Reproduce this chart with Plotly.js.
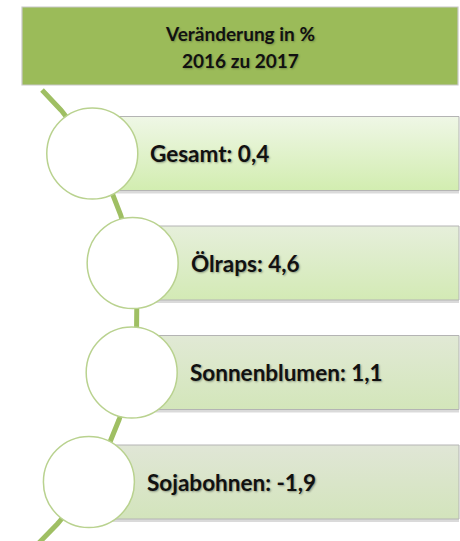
<!DOCTYPE html>
<html>
<head>
<meta charset="utf-8">
<script src="https://cdn.plot.ly/plotly-3.0.1.min.js"></script>
<style>html,body{margin:0;padding:0;background:#fff;}#chart{width:460px;height:541px;}</style>
</head>
<body>
<div id="chart"></div>
<script>
// ---- data ----
const titleLines = ['Veränderung in %', '2016 zu 2017'];
const categories = ['Gesamt', 'Ölraps', 'Sonnenblumen', 'Sojabohnen'];
const changes = [0.4, 4.6, 1.1, -1.9];
const barTopColors = ['#eff7e6', '#e6efdb', '#e1e9d5', '#e0e6d6'];
const barBottomColors = ['#d2edb0', '#d3eab5', '#d3e6ba', '#d3e4bc'];

// ---- layout geometry ----
const W = 460, H = 541;
const firstY = 153.5, stepY = 109.5, halfBar = 37, barRight = 459;
const arcCx = -177, arcCy = 315, arcR = 314;
function arcX(y) { return arcCx + Math.sqrt(arcR * arcR - (y - arcCy) * (y - arcCy)); }
function fmt(v) { return String(v).replace('.', ','); }

const traces = [];
// connecting arc
const lx = [], ly = [];
for (let y = 90; y <= 548; y += 2) { lx.push(arcX(y)); ly.push(y); }
traces.push({x: lx, y: ly, type: 'scatter', mode: 'lines',
  line: {color: '#9fbf63', width: 5}, hoverinfo: 'skip', showlegend: false});

const annotations = [];
categories.forEach((cat, i) => {
  const yc = firstY + i * stepY;
  const xc = arcX(yc);
  const t = yc - halfBar, b = yc + halfBar;
  // shadow
  traces.push({x: [xc, barRight, barRight, xc, xc], y: [t + 2, t + 2, b + 3, b + 3, t + 2],
    type: 'scatter', mode: 'lines', fill: 'toself', fillcolor: 'rgba(150,150,150,0.35)',
    line: {width: 0, color: 'rgba(0,0,0,0)'}, hoverinfo: 'skip', showlegend: false});
  // bar
  traces.push({x: [xc, barRight, barRight, xc, xc], y: [t, t, b, b, t],
    type: 'scatter', mode: 'lines', fill: 'toself',
    fillgradient: {type: 'vertical', start: t, stop: b,
      colorscale: [[0, barTopColors[i]], [1, barBottomColors[i]]]},
    line: {width: 1, color: '#b4b4b4'}, hoverinfo: 'skip', showlegend: false});
  // circle
  traces.push({x: [xc], y: [yc], type: 'scatter', mode: 'markers',
    marker: {size: 91, color: '#ffffff', line: {color: '#b9d28f', width: 1.5}},
    hoverinfo: 'skip', showlegend: false});
  annotations.push({x: xc + 56, y: yc, xref: 'x', yref: 'y', xanchor: 'left', yanchor: 'middle',
    text: '<b>' + cat + ': ' + fmt(changes[i]) + '</b>', showarrow: false,
    font: {family: 'Lato, sans-serif', size: 22.5, color: '#111111',
      shadow: '1px 1px 2px rgba(0,0,0,0.35)'}});
});

titleLines.forEach((s, j) => {
  annotations.push({x: 240, y: 33 + j * 27, xref: 'x', yref: 'y', xanchor: 'center', yanchor: 'middle',
    text: '<b>' + s + '</b>', showarrow: false,
    font: {family: 'Lato, sans-serif', size: 19, color: '#111111',
      shadow: '1px 1px 2px rgba(0,0,0,0.25)'}});
});

const layout = {
  width: W, height: H,
  margin: {l: 0, r: 0, t: 0, b: 0},
  paper_bgcolor: '#ffffff', plot_bgcolor: '#ffffff',
  xaxis: {range: [0, W], visible: false, fixedrange: true},
  yaxis: {range: [H, 0], visible: false, fixedrange: true},
  showlegend: false, hovermode: false,
  shapes: [
    {type: 'rect', xref: 'x', yref: 'y', x0: 22, x1: 458, y0: 7, y1: 85,
     fillcolor: '#9bbb59', line: {color: '#c8c8c8', width: 1.2}}
  ],
  annotations: annotations
};
Plotly.newPlot('chart', traces, layout, {displayModeBar: false, staticPlot: true});
</script>
</body>
</html>
